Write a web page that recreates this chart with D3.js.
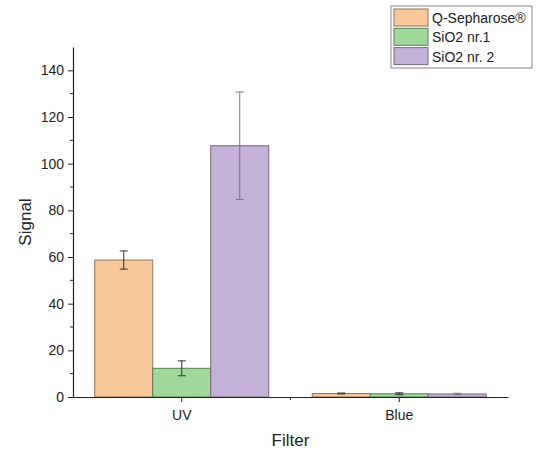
<!DOCTYPE html>
<html>
<head>
<meta charset="utf-8">
<script src="https://cdn.jsdelivr.net/npm/d3@7"></script>
<style>
  body { margin: 0; background: #fff; }
  text { font-family: "Liberation Sans", Arial, sans-serif; fill: #222; }
</style>
</head>
<body>
<div id="chart"></div>
<script>
// Data
const categories = ['UV', 'Blue'];
const seriesNames = ['Q-Sepharose®', 'SiO2 nr.1', 'SiO2 nr. 2'];
const qSepharose = [58.7, 1.5];
const qSepharoseErr = [3.9, 0.2];
const sio2nr1 = [12.3, 1.4];
const sio2nr1Err = [3.2, 0.4];
const sio2nr2 = [107.7, 1.3];
const sio2nr2Err = [23, 0.3];
const yTicks = [0, 20, 40, 60, 80, 100, 120, 140];

const fills = ['#f9c898', '#a0d89b', '#c3b1d7'];
const strokes = ['#8f7560', '#5a7f58', '#76697f'];
const errColors = ['#333', '#333', '#777'];

const W = 540, H = 452;
const margin = { top: 47, right: 32, bottom: 55, left: 73 };
const width = W - margin.left - margin.right;
const height = H - margin.top - margin.bottom;

const svg = d3.select('#chart').append('svg')
    .attr('width', W)
    .attr('height', H);
const g = svg.append('g')
    .attr('transform', `translate(${margin.left},${margin.top})`);

const x0 = d3.scaleBand().domain(categories).range([0, width]).paddingInner(0).paddingOuter(0);
const x1 = d3.scaleBand().domain(seriesNames).range([0, x0.bandwidth() * 0.8]);
const y = d3.scaleLinear().domain([0, 150]).range([height, 0]);

const series = [
    { name: seriesNames[0], values: qSepharose, errs: qSepharoseErr },
    { name: seriesNames[1], values: sio2nr1, errs: sio2nr1Err },
    { name: seriesNames[2], values: sio2nr2, errs: sio2nr2Err }
];

// Bars
series.forEach((s, si) => {
    const off = x0.bandwidth() * 0.1;
    g.selectAll(null)
        .data(categories)
        .enter()
        .append('rect')
        .attr('x', c => x0(c) + off + x1(s.name))
        .attr('y', (c, i) => y(s.values[i]))
        .attr('width', x1.bandwidth())
        .attr('height', (c, i) => y(0) - y(s.values[i]))
        .attr('fill', fills[si])
        .attr('stroke', strokes[si])
        .attr('stroke-width', 1);

    // Error bars
    categories.forEach((c, i) => {
        const cx = x0(c) + off + x1(s.name) + x1.bandwidth() / 2;
        const hi = y(s.values[i] + s.errs[i]);
        const lo = y(s.values[i] - s.errs[i]);
        const eg = g.append('g').attr('stroke', errColors[si]).attr('stroke-width', 1);
        eg.append('line').attr('x1', cx).attr('x2', cx).attr('y1', hi).attr('y2', lo);
        eg.append('line').attr('x1', cx - 4).attr('x2', cx + 4).attr('y1', hi).attr('y2', hi);
        eg.append('line').attr('x1', cx - 4).attr('x2', cx + 4).attr('y1', lo).attr('y2', lo);
    });
});

// Y axis
const yAxis = g.append('g')
    .call(d3.axisLeft(y).tickValues(yTicks).tickSize(5).tickSizeOuter(0).tickPadding(4));
yAxis.append('g').selectAll('line')
    .data(d3.range(10, 150, 20))
    .enter()
    .append('line')
    .attr('x1', 0).attr('x2', -3)
    .attr('y1', d => y(d)).attr('y2', d => y(d))
    .attr('stroke', '#222');

// X axis
const xAxis = g.append('g')
    .attr('transform', `translate(0,${height})`)
    .call(d3.axisBottom(x0).tickSize(5).tickSizeOuter(0).tickPadding(8));
xAxis.append('line')
    .attr('x1', x0.step()).attr('x2', x0.step())
    .attr('y1', 0).attr('y2', 3)
    .attr('stroke', '#222');

[yAxis, xAxis].forEach(a => {
    a.select('.domain').attr('stroke', '#222').attr('stroke-width', 1.2);
    a.selectAll('.tick line').attr('stroke', '#222');
    a.selectAll('.tick text').style('font-size', '14px').attr('fill', '#222')
        .style('font-family', '"Liberation Sans", Arial, sans-serif');
});

// Axis titles
svg.append('text')
    .attr('transform', 'rotate(-90)')
    .attr('x', -(margin.top + height / 2))
    .attr('y', 31)
    .style('text-anchor', 'middle')
    .style('font-size', '17px')
    .text('Signal');

svg.append('text')
    .attr('x', margin.left + width / 2)
    .attr('y', 446)
    .style('text-anchor', 'middle')
    .style('font-size', '17px')
    .text('Filter');

// Legend
const legend = svg.append('g').attr('transform', 'translate(391,6)');
legend.append('rect')
    .attr('width', 141).attr('height', 62)
    .attr('fill', '#fff').attr('stroke', '#888');
seriesNames.forEach((n, i) => {
    legend.append('rect')
        .attr('x', 3).attr('y', 3 + i * 19.3)
        .attr('width', 34).attr('height', 17)
        .attr('fill', fills[i]).attr('stroke', strokes[i]);
    legend.append('text')
        .attr('x', 41).attr('y', 17 + i * 19.3)
        .style('font-size', '14px')
        .text(n);
});
</script>
</body>
</html>
